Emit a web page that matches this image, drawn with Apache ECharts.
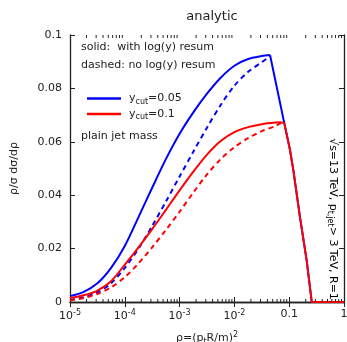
<!DOCTYPE html>
<html><head><meta charset="utf-8">
<script src="https://cdn.jsdelivr.net/npm/echarts@6/dist/echarts.min.js"></script>
<style>html,body{margin:0;padding:0;background:#fff}#c{width:347px;height:342px}</style>
</head><body><div id="c"></div>
<script>
// ---- data ----
const riseRho = [1e-5,1.78e-5,3.16e-5,5.62e-5,1e-4,1.78e-4,3.16e-4,5.62e-4,1e-3,1.78e-3,3.16e-3,5.62e-3,1e-2,1.78e-2,3.16e-2];
const fallRho = [0.0815,0.1035,0.119,0.157,0.208,0.258,1];
const fallVal = [0.0669,0.0569,0.0494,0.0319,0.0157,0,0];
const blueSolidVal = [0.0022,0.0038,0.0070,0.0128,0.0210,0.0318,0.0428,0.0535,0.0630,0.0710,0.0780,0.0840,0.0885,0.0910,0.0921];
const bluePeakRho = [0.0447], bluePeakVal = [0.0925];
const redSolidVal = [0.0015,0.0025,0.0043,0.0078,0.0140,0.0205,0.0273,0.0345,0.0418,0.0488,0.0552,0.0603,0.0636,0.0655,0.0666];
const redPeakRho = [0.0562,0.073], redPeakVal = [0.0672,0.0673];
const blueDashVal = [0.0008,0.0018,0.0036,0.0070,0.0128,0.0200,0.0285,0.0376,0.0470,0.0563,0.0653,0.0738,0.0810,0.0862,0.0898];
const blueDashEndRho = [0.0409,0.0447], blueDashEndVal = [0.0915,0.0925];
const redDashVal = [0.0006,0.0015,0.0030,0.0055,0.0093,0.0145,0.0205,0.0270,0.0338,0.0410,0.0478,0.0535,0.0580,0.0614,0.0640];
const redDashEndRho = [0.0562,0.073], redDashEndVal = [0.0659,0.0673];
const yTicks = [0,0.02,0.04,0.06,0.08,0.1];
const xMinorMult = [2,3,4,5,6,7,8,9];
// ------------------------------------
const pairs = (a,b)=>a.map((x,i)=>[x,b[i]]);
const blueRise = pairs(riseRho,blueSolidVal).concat(pairs(bluePeakRho,bluePeakVal));
const blueFall = pairs(bluePeakRho,bluePeakVal).concat(pairs(fallRho,fallVal));
const redRise = pairs(riseRho,redSolidVal).concat(pairs(redPeakRho,redPeakVal));
const redFall = pairs(redPeakRho.slice(-1),redPeakVal.slice(-1)).concat(pairs(fallRho,fallVal));
const blueDash = pairs(riseRho,blueDashVal).concat(pairs(blueDashEndRho,blueDashEndVal));
const redDash = pairs(riseRho,redDashVal).concat(pairs(redDashEndRho,redDashEndVal));
const minor = [];
for (let d=-5; d<0; d++) for (const m of xMinorMult) minor.push(m*Math.pow(10,d));

const F = 'DejaVu Sans';
const rich = {
  b:{fontFamily:F,fontSize:11,color:'#222'},
  sup:{fontFamily:F,fontSize:8,color:'#222',padding:[0,0,7,0]},
  sub:{fontFamily:F,fontSize:8,color:'#222',padding:[6,0,0,0]}
};
function xLabel(v){
  const e = Math.round(Math.log10(v));
  if (e===-1) return '{b|0.1}';
  if (e===0) return '{b|1}';
  return '{b|10}{sup|'+e+'}';
}
const chart = echarts.init(document.getElementById('c'),null,{renderer:'canvas'});
const axisLine = {show:true,lineStyle:{color:'#222',width:1.3}};
const tick = {inside:true,length:5,lineStyle:{color:'#222'}};
const lineBase = {type:'line',showSymbol:false,symbol:'none'};
chart.setOption({
  animation:false,
  title:{text:'analytic',left:207,top:5,textAlign:'center',textStyle:{fontFamily:F,fontSize:13,fontWeight:'normal',color:'#222'}},
  grid:{left:70,right:3,top:35,bottom:40,containLabel:false,outerBoundsMode:'none'},
  legend:{
    left:82,top:88,orient:'vertical',itemWidth:34,itemHeight:2.4,itemGap:3,icon:'rect',
    data:['blue','red'],
    formatter:n=> n==='blue' ? '{b|y}{sub|cut}{b|=0.05}' : '{b|y}{sub|cut}{b|=0.1}',
    textStyle:{rich:rich,padding:[0,0,0,3]}
  },
  xAxis:[{
    type:'log',logBase:10,min:1e-5,max:1,position:'bottom',
    axisLine:axisLine,splitLine:{show:false},axisTick:tick,
    axisLabel:{formatter:xLabel,rich:rich,margin:7},
    name:'ρ=(p{sub|t}R/m){sup|2}',nameLocation:'middle',nameGap:29,
    nameTextStyle:{rich:rich,fontFamily:F,fontSize:11,color:'#222'}
  },{
    type:'log',logBase:10,min:1e-5,max:1,position:'top',
    axisLine:axisLine,splitLine:{show:false},axisTick:tick,
    axisLabel:{show:false}
  }],
  yAxis:[{
    type:'value',min:0,max:0.1,interval:0.02,
    axisLine:axisLine,splitLine:{show:false},axisTick:tick,
    axisLabel:{fontFamily:F,fontSize:11,color:'#222',margin:8,formatter:v=>v===0?'0':(Math.abs(v-0.1)<1e-9?'0.1':v.toFixed(2))},
    name:'ρ/σ dσ/dρ',nameLocation:'middle',nameGap:50,
    nameTextStyle:{fontFamily:F,fontSize:11,color:'#222'}
  },{
    type:'value',min:0,max:0.1,interval:0.02,position:'right',
    axisLine:axisLine,splitLine:{show:false},axisTick:tick,
    axisLabel:{show:false}
  }],
  graphic:[
    {type:'text',left:81,top:42,style:{text:'solid:  with log(y) resum',fontFamily:F,fontSize:11,fill:'#222'}},
    {type:'text',left:81,top:60,style:{text:'dashed: no log(y) resum',fontFamily:F,fontSize:11,fill:'#222'}},
    {type:'text',left:81,top:131,style:{text:'plain jet mass',fontFamily:F,fontSize:11,fill:'#222'}},
    {type:'text',x:333,y:219,rotation:-Math.PI/2,
     style:{text:'{b|√s=13 TeV, p}{sub|t,jet}{b|> 3 TeV, R=1}',rich:rich,align:'center',verticalAlign:'middle'}}
  ],
  series:[
    Object.assign({name:'blueDash',data:blueDash,smooth:0.3,z:2,lineStyle:{color:'#0000ff',width:2,type:[5,4]}},lineBase),
    Object.assign({name:'redDash',data:redDash,smooth:0.3,z:2,lineStyle:{color:'#ff0000',width:2,type:[5,4]}},lineBase),
    Object.assign({name:'blue',data:blueRise,smooth:0.3,z:3,color:'#0000ff',lineStyle:{color:'#0000ff',width:2}},lineBase),
    Object.assign({name:'blueFall',data:blueFall,smooth:false,z:3,lineStyle:{color:'#0000ff',width:2}},lineBase),
    Object.assign({name:'red',data:redRise,smooth:0.3,z:4,color:'#ff0000',lineStyle:{color:'#ff0000',width:2}},lineBase),
    Object.assign({name:'redFall',data:redFall,smooth:false,z:4,lineStyle:{color:'#ff0000',width:2}},lineBase),
    {name:'minorTicks',type:'custom',data:minor.map(v=>[v]),z:5,silent:true,
     renderItem:(p,api)=>{
       const b = api.coord([api.value(0),0]);
       const t = api.coord([api.value(0),0.1]);
       return {type:'group',children:[
         {type:'line',shape:{x1:b[0],y1:b[1],x2:b[0],y2:b[1]-3},style:{stroke:'#222',lineWidth:1}},
         {type:'line',shape:{x1:t[0],y1:t[1],x2:t[0],y2:t[1]+3},style:{stroke:'#222',lineWidth:1}}
       ]};
     }}
  ]
});
</script></body></html>
